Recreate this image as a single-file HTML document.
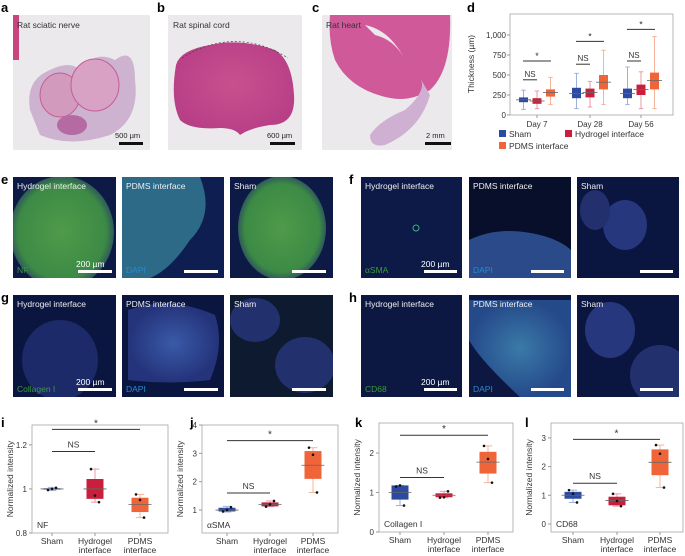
<!DOCTYPE html>
<html><head><meta charset="utf-8"><style>
body{margin:0;background:#fff;}
svg{display:block;font-family:"Liberation Sans",sans-serif;}
</style></head><body>
<svg id="fig" width="685" height="556" viewBox="0 0 685 556">
<defs>
<radialGradient id="pinkG" cx="50%" cy="45%" r="55%"><stop offset="0" stop-color="#c9508f"/><stop offset="1" stop-color="#b83f86"/></radialGradient>
<radialGradient id="grnG" cx="50%" cy="50%" r="50%"><stop offset="0" stop-color="#4f9b4a"/><stop offset="0.85" stop-color="#3c8a45"/><stop offset="1" stop-color="#2f5a5a"/></radialGradient>
<radialGradient id="bluG" cx="50%" cy="50%" r="50%"><stop offset="0" stop-color="#3a5aa8"/><stop offset="1" stop-color="#24337a"/></radialGradient>
<radialGradient id="tealG" cx="50%" cy="50%" r="50%"><stop offset="0" stop-color="#3a7aa8"/><stop offset="1" stop-color="#254a8a"/></radialGradient>
<clipPath id="c1"><rect x="13" y="177" width="103" height="101"/></clipPath>
<clipPath id="c2"><rect x="122" y="177" width="102" height="101"/></clipPath>
<clipPath id="c3"><rect x="230" y="177" width="103" height="101"/></clipPath>
<clipPath id="c4"><rect x="361" y="177" width="101" height="101"/></clipPath>
<clipPath id="c5"><rect x="469" y="177" width="102" height="101"/></clipPath>
<clipPath id="c6"><rect x="577" y="177" width="102" height="101"/></clipPath>
<clipPath id="c7"><rect x="13" y="295" width="103" height="102"/></clipPath>
<clipPath id="c8"><rect x="122" y="295" width="102" height="102"/></clipPath>
<clipPath id="c9"><rect x="230" y="295" width="103" height="102"/></clipPath>
<clipPath id="c10"><rect x="361" y="295" width="101" height="102"/></clipPath>
<clipPath id="c11"><rect x="469" y="295" width="102" height="102"/></clipPath>
<clipPath id="c12"><rect x="577" y="295" width="102" height="102"/></clipPath>
</defs>
<g font-weight="bold" font-size="13" fill="#000">
<text x="1" y="12">a</text>
<text x="157" y="12">b</text>
<text x="312" y="12">c</text>
<text x="467" y="12">d</text>
<text x="1" y="184">e</text>
<text x="349" y="184">f</text>
<text x="1" y="302">g</text>
<text x="349" y="302">h</text>
<text x="1" y="427">i</text>
<text x="190" y="427">j</text>
<text x="355" y="427">k</text>
<text x="525" y="427">l</text>
</g>
<!-- a -->
<g>
<rect x="13" y="15" width="137" height="135" fill="#ebe9ec"/>
<rect x="13" y="15" width="6" height="45" fill="#c8457e"/>
<path d="M30 110 Q25 80 50 70 Q70 60 80 70 Q95 50 115 60 Q135 45 135 80 Q140 120 110 135 Q70 148 40 135 Z" fill="#cdb3cf"/>
<ellipse cx="60" cy="95" rx="20" ry="22" fill="#d29bbd" stroke="#c55c98"/>
<ellipse cx="95" cy="85" rx="24" ry="26" fill="#d8a2c4" stroke="#c55c98"/>
<ellipse cx="72" cy="125" rx="15" ry="10" fill="#b56aa3"/>
<text x="17" y="28" font-size="8.5" fill="#333">Rat sciatic nerve</text>
<text x="115" y="138" font-size="7.5" fill="#222">500 µm</text>
<rect x="119" y="142" width="24" height="3" fill="#111"/>
</g>
<!-- b -->
<g>
<rect x="168" y="15" width="134" height="135" fill="#ebe9ec"/>
<path d="M176 65 Q180 50 210 45 Q240 38 275 50 Q292 60 294 95 Q296 125 270 125 Q250 128 240 135 Q235 128 220 128 Q190 130 180 120 Q170 100 176 65 Z" fill="url(#pinkG)"/>
<path d="M182 58 Q235 25 288 58" fill="none" stroke="#444" stroke-dasharray="2,2" stroke-width="0.7"/>
<text x="173" y="28" font-size="8.5" fill="#333">Rat spinal cord</text>
<text x="267" y="138" font-size="7.5" fill="#222">600 µm</text>
<rect x="270" y="142" width="25" height="3" fill="#111"/>
</g>
<!-- c -->
<g>
<rect x="322" y="15" width="130" height="135" fill="#ebe9ec"/>
<path d="M330 15 L450 15 Q452 70 430 90 Q410 102 390 98 Q350 90 335 60 Q328 40 330 15 Z" fill="#d0599a"/>
<path d="M365 25 Q390 30 405 60 Q395 40 375 35 Z" fill="#ebe9ec"/>
<path d="M420 78 Q428 90 405 110 Q380 120 370 135 Q370 148 385 145 Q420 130 430 95 Z" fill="#cfb0d3"/>
<text x="326" y="28" font-size="8.5" fill="#333">Rat heart</text>
<text x="426" y="138" font-size="7.5" fill="#222">2 mm</text>
<rect x="425" y="142" width="26" height="3" fill="#111"/>
</g>
<!-- fluorescence -->
<g font-size="8.5" fill="#ddd">
<g clip-path="url(#c1)"><rect x="13" y="177" width="103" height="101" fill="#0c1a45"/><ellipse cx="62" cy="232" rx="52" ry="56" fill="url(#grnG)"/><text x="17" y="189" fill="#eee">Hydrogel interface</text><text x="17" y="273" fill="#3b9a3b">NF</text><text x="76" y="267" fill="#fff">200 µm</text><rect x="78" y="270" width="34" height="3" fill="#fff"/></g>
<g clip-path="url(#c2)"><rect x="122" y="177" width="102" height="101" fill="#0f1e50"/><path d="M122 177 L200 177 Q215 215 190 240 Q170 270 150 278 L122 278 Z" fill="#2c6a88"/><text x="126" y="189" fill="#eee">PDMS interface</text><text x="126" y="273" fill="#2a8ad0">DAPI</text><rect x="184" y="270" width="34" height="3" fill="#fff"/></g>
<g clip-path="url(#c3)"><rect x="230" y="177" width="103" height="101" fill="#0c1a45"/><ellipse cx="282" cy="228" rx="44" ry="52" fill="url(#grnG)"/><text x="234" y="189" fill="#eee">Sham</text><rect x="292" y="270" width="34" height="3" fill="#fff"/></g>
<g clip-path="url(#c4)"><rect x="361" y="177" width="101" height="101" fill="#0d1a48"/><circle cx="416" cy="228" r="3" fill="none" stroke="#3ab37a"/><text x="365" y="189" fill="#eee">Hydrogel interface</text><text x="365" y="273" fill="#3b9a3b">αSMA</text><text x="421" y="267" fill="#fff">200 µm</text><rect x="424" y="270" width="33" height="3" fill="#fff"/></g>
<g clip-path="url(#c5)"><rect x="469" y="177" width="102" height="101" fill="#070f2a"/><path d="M469 240 Q500 225 540 235 Q560 240 571 250 L571 278 L469 278 Z" fill="#2a4a8a"/><text x="473" y="189" fill="#eee">PDMS interface</text><text x="473" y="273" fill="#2a8ad0">DAPI</text><rect x="531" y="270" width="33" height="3" fill="#fff"/></g>
<g clip-path="url(#c6)"><rect x="577" y="177" width="102" height="101" fill="#0a1540"/><ellipse cx="625" cy="225" rx="22" ry="25" fill="#26377d"/><ellipse cx="595" cy="210" rx="15" ry="20" fill="#22306e"/><text x="581" y="189" fill="#eee">Sham</text><rect x="640" y="270" width="33" height="3" fill="#fff"/></g>
<g clip-path="url(#c7)"><rect x="13" y="295" width="103" height="102" fill="#0b1640"/><ellipse cx="60" cy="360" rx="38" ry="40" fill="#1d2a6a"/><text x="17" y="307" fill="#eee">Hydrogel interface</text><text x="17" y="392" fill="#3b9a3b">Collagen I</text><text x="76" y="385" fill="#fff">200 µm</text><rect x="78" y="388" width="34" height="3" fill="#fff"/></g>
<g clip-path="url(#c8)"><rect x="122" y="295" width="102" height="102" fill="#0b1640"/><path d="M128 310 Q170 295 215 315 Q225 345 210 380 Q170 385 128 380 Z" fill="url(#bluG)"/><text x="126" y="307" fill="#eee">PDMS interface</text><text x="126" y="392" fill="#2a8ad0">DAPI</text><rect x="184" y="388" width="34" height="3" fill="#fff"/></g>
<g clip-path="url(#c9)"><rect x="230" y="295" width="103" height="102" fill="#0d1a30"/><ellipse cx="255" cy="320" rx="25" ry="22" fill="#22306e"/><ellipse cx="305" cy="365" rx="30" ry="28" fill="#22306e"/><text x="234" y="307" fill="#eee">Sham</text><rect x="292" y="388" width="34" height="3" fill="#fff"/></g>
<g clip-path="url(#c10)"><rect x="361" y="295" width="101" height="102" fill="#0c1842"/><text x="365" y="307" fill="#eee">Hydrogel interface</text><text x="365" y="392" fill="#3b9a3b">CD68</text><text x="421" y="385" fill="#fff">200 µm</text><rect x="424" y="388" width="33" height="3" fill="#fff"/></g>
<g clip-path="url(#c11)"><rect x="469" y="295" width="102" height="102" fill="#0c1842"/><path d="M469 300 L571 300 L571 397 L520 397 Q480 360 469 340 Z" fill="url(#tealG)"/><text x="473" y="307" fill="#eee">PDMS interface</text><text x="473" y="392" fill="#2a8ad0">DAPI</text><rect x="531" y="388" width="33" height="3" fill="#fff"/></g>
<g clip-path="url(#c12)"><rect x="577" y="295" width="102" height="102" fill="#0a1540"/><ellipse cx="610" cy="330" rx="25" ry="28" fill="#26377d"/><ellipse cx="660" cy="375" rx="30" ry="30" fill="#22306e"/><text x="581" y="307" fill="#eee">Sham</text><rect x="640" y="388" width="33" height="3" fill="#fff"/></g>
</g>
<g id="charts"></g>
</svg>
<script>
// Panel d data
const dDays=["Day 7","Day 28","Day 56"];
const dGroups=["Sham","Hydrogel interface","PDMS interface"];
const dQ1=[[160,140,230],[210,220,320],[210,250,320]];
const dMed=[[190,175,280],[270,280,410],[270,320,430]];
const dQ3=[[220,210,320],[340,330,500],[330,380,530]];
const dMin=[[70,80,130],[80,100,130],[130,80,80]];
const dMax=[[310,300,470],[520,420,810],[600,540,980]];
const dTicks=[0,250,500,750,1000];
const dTickLabels=["0","250","500","750","1,000"];
// Panels i-l data
const ijklCats=["Sham","Hydrogel interface","PDMS interface"];
const iQ1=[0.997,0.955,0.895], iMed=[1.0,1.0,0.93], iQ3=[1.003,1.045,0.96], iMin=[0.993,0.94,0.87], iMax=[1.007,1.09,0.975];
const iPts=[[0.995,1.0,1.005],[1.09,0.97,0.94],[0.975,0.95,0.87]];
const jQ1=[0.95,1.13,2.1], jMed=[1.0,1.2,2.58], jQ3=[1.08,1.27,3.08], jMin=[0.93,1.12,1.62], jMax=[1.13,1.32,3.2];
const jPts=[[0.95,1.0,1.1],[1.12,1.2,1.32],[3.2,2.95,1.62]];
const kQ1=[0.82,0.88,1.48], kMed=[1.0,0.93,1.77], kQ3=[1.18,0.98,2.03], kMin=[0.67,0.87,1.25], kMax=[1.18,1.03,2.18];
const kPts=[[1.15,1.18,0.67],[0.87,0.88,1.03],[2.18,1.85,1.25]];
const lQ1=[0.88,0.65,1.7], lMed=[1.0,0.82,2.15], lQ3=[1.12,0.95,2.6], lMin=[0.75,0.62,1.27], lMax=[1.18,1.05,2.75];
const lPts=[[1.18,1.05,0.75],[1.05,0.8,0.62],[2.75,2.45,1.27]];

const NS="http://www.w3.org/2000/svg";
const root=document.getElementById("charts");
const colors=["#2b4aa0","#c8203c","#f0643a"];
const light=["#9fb0dd","#eb9aa6","#f7b49a"];
function mk(tag,attrs,parent){const e=document.createElementNS(NS,tag);for(const k in attrs)e.setAttribute(k,attrs[k]);(parent||root).appendChild(e);return e;}
function txt(x,y,s,attrs,parent){const t=mk("text",Object.assign({x:x,y:y},attrs),parent);t.textContent=s;return t;}
function box(g,cx,w,yf,q1,med,q3,mn,mx,ci){
  const wh=mk("line",{x1:cx,x2:cx,y1:yf(mx),y2:yf(mn),stroke:light[ci],"stroke-width":1},g);
  
  
  mk("line",{x1:cx-w/4,x2:cx+w/4,y1:yf(mx),y2:yf(mx),stroke:light[ci]},g);
  mk("line",{x1:cx-w/4,x2:cx+w/4,y1:yf(mn),y2:yf(mn),stroke:light[ci]},g);
  const r=mk("rect",{x:cx-w/2,y:yf(q3),width:w,height:Math.max(1,yf(q1)-yf(q3)),fill:colors[ci]},g);
  
  
  mk("line",{x1:cx-w/2-3,x2:cx+w/2+3,y1:yf(med),y2:yf(med),stroke:"#666","stroke-width":0.8},g);
}
// panel d
(function(){
  const g=mk("g",{});
  
  
  const x0=510,x1=673,yb=115,yt=14;
  const yf=v=>yb-v*0.08;
  mk("rect",{x:x0,y:yt,width:x1-x0,height:yb-yt,fill:"none",stroke:"#999","stroke-width":0.7},g);
  dTicks.forEach((t,i)=>{mk("line",{x1:x0-3,x2:x0,y1:yf(t),y2:yf(t),stroke:"#999"},g);txt(x0-4,yf(t)+3,dTickLabels[i],{"font-size":8,"text-anchor":"end",fill:"#333"},g);});
  const yl=txt(0,0,"Thickness (µm)",{"font-size":8.5,"text-anchor":"middle",fill:"#333",transform:"translate(474,64) rotate(-90)"},g);
  
  const centers=[537,590,641];
  dDays.forEach((d,i)=>{
    txt(centers[i],127,d,{"font-size":8,"text-anchor":"middle",fill:"#333"},g);
    mk("line",{x1:centers[i],x2:centers[i],y1:yb,y2:yb+3,stroke:"#999"},g);
    for(let j=0;j<3;j++)box(g,centers[i]+(j-1)*13.5,9,yf,dQ1[i][j],dMed[i][j],dQ3[i][j],dMin[i][j],dMax[i][j],j);
  });
  const nsY=[440,635,675], stY=[675,920,1070];
  centers.forEach((c,i)=>{
    mk("line",{x1:c-14,x2:c,y1:yf(nsY[i]),y2:yf(nsY[i]),stroke:"#333"},g);
    txt(c-7,yf(nsY[i])-3,"NS",{"font-size":8,"text-anchor":"middle",fill:"#333"},g);
    mk("line",{x1:c-14,x2:c+14,y1:yf(stY[i]),y2:yf(stY[i]),stroke:"#333"},g);
    txt(c,yf(stY[i])-2,"*",{"font-size":9,"text-anchor":"middle",fill:"#333"},g);
  });
  const leg=[[499,137,0,"Sham"],[565,137,1,"Hydrogel interface"],[499,149,2,"PDMS interface"]];
  leg.forEach(l=>{const lg=mk("g",{},g);
    mk("rect",{x:l[0],y:l[1]-7,width:7,height:7,fill:colors[l[2]]},lg);txt(l[0]+10,l[1],l[3],{"font-size":8.5,fill:"#333"},lg);});
})();
// panels i-l
function small(name,x0,x1,yt,yb,dmin,dmax,ticks,tickLab,cxs,Q1,Med,Q3,Mn,Mx,Pts,tag,nsV,stV){
  const g=mk("g",{});
  
  
  const yf=v=>yb-(v-dmin)/(dmax-dmin)*(yb-yt);
  mk("rect",{x:x0,y:yt,width:x1-x0,height:yb-yt,fill:"none",stroke:"#999","stroke-width":0.7},g);
  ticks.forEach((t,i)=>{mk("line",{x1:x0-3,x2:x0,y1:yf(t),y2:yf(t),stroke:"#999"},g);txt(x0-5,yf(t)+3,tickLab[i],{"font-size":8,"text-anchor":"end",fill:"#333"},g);});
  const yl=txt(0,0,"Normalized intensity",{"font-size":8.5,"text-anchor":"middle",fill:"#333",transform:"translate("+(x0-19)+","+((yt+yb)/2)+") rotate(-90)"},g);
  
  const lab=[["Sham"],["Hydrogel","interface"],["PDMS","interface"]];
  cxs.forEach((c,i)=>{
    mk("line",{x1:c,x2:c,y1:yb,y2:yb+3,stroke:"#999"},g);
    lab[i].forEach((s,k)=>txt(c,yb+11+k*9,s,{"font-size":8.5,"text-anchor":"middle",fill:"#333"},g));
    box(g,c,17,yf,Q1[i],Med[i],Q3[i],Mn[i],Mx[i],i);
    Pts[i].forEach((p,k)=>mk("circle",{cx:c+(k-1)*4,cy:yf(p),r:1.3,fill:"#111"},g));
  });
  mk("line",{x1:cxs[0],x2:cxs[1],y1:yf(nsV),y2:yf(nsV),stroke:"#333"},g);
  txt((cxs[0]+cxs[1])/2,yf(nsV)-4,"NS",{"font-size":8.5,"text-anchor":"middle",fill:"#333"},g);
  mk("line",{x1:cxs[0],x2:cxs[2],y1:yf(stV),y2:yf(stV),stroke:"#333"},g);
  txt((cxs[0]+cxs[2])/2,yf(stV)-3,"*",{"font-size":10,"text-anchor":"middle",fill:"#333"},g);
  txt(x0+5,yb-5,tag,{"font-size":8.5,fill:"#333"},g);
}
small("nf-chart",32,168,425,533,0.8,1.29,[0.8,1,1.2],["0.8","1","1.2"],[52,95,140],iQ1,iMed,iQ3,iMin,iMax,iPts,"NF",1.17,1.27);
small("asma-chart",202,338,425,533,0.19,4,[1,2,3,4],["1","2","3","4"],[227,270,313],jQ1,jMed,jQ3,jMin,jMax,jPts,"αSMA",1.6,3.45);
small("collagen-chart",379,513,423,532,0,2.76,[0,1,2],["0","1","2"],[400,444,488],kQ1,kMed,kQ3,kMin,kMax,kPts,"Collagen I",1.38,2.45);
small("cd68-chart",551,683,423,532,-0.28,3.52,[0,1,2,3],["0","1","2","3"],[573,617,660],lQ1,lMed,lQ3,lMin,lMax,lPts,"CD68",1.42,2.95);
</script>
</body></html>
